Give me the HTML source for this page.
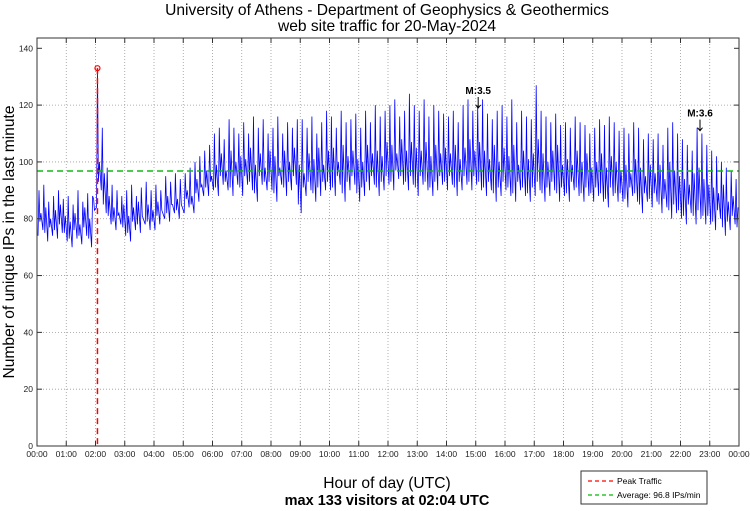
<!DOCTYPE html>
<html><head><meta charset="utf-8"><style>
html,body{margin:0;padding:0;background:#fff;}
svg{display:block;font-family:"Liberation Sans",sans-serif;}
</style></head><body>
<svg id="chart" width="750" height="511" viewBox="0 0 750 511" xmlns="http://www.w3.org/2000/svg">
<text x="387" y="15" font-size="15.6" text-anchor="middle">University of Athens - Department of Geophysics &amp; Geothermics</text>
<text x="387" y="31" font-size="15.6" text-anchor="middle">web site traffic for 20-May-2024</text>
<g id="grid"></g>
<g id="series"></g>
<g id="axes"></g>
<text transform="translate(14,242) rotate(-90)" font-size="15.6" text-anchor="middle">Number of unique IPs in the last minute</text>
<text x="387" y="488" font-size="15.6" text-anchor="middle">Hour of day (UTC)</text>
<text x="387" y="505" font-size="14.5" font-weight="bold" text-anchor="middle">max 133 visitors at 02:04 UTC</text>
<g>
<rect x="581" y="471" width="126" height="33" fill="#fff" stroke="#333" stroke-width="1"/>
<line x1="588" y1="481" x2="613" y2="481" stroke="#f00" stroke-width="1.2" stroke-dasharray="4,3"/>
<text x="617" y="484" font-size="8.5">Peak Traffic</text>
<line x1="588" y1="495" x2="613" y2="495" stroke="#0b0" stroke-width="1.2" stroke-dasharray="4,3"/>
<text x="617" y="498" font-size="8.5">Average: 96.8 IPs/min</text>
</g>
</svg>
<script>
const binStartMinutes=[];for(let i=0;i<144;i++)binStartMinutes.push(i*10);
const highValues=[90,92,86,88,90,87, 88,85,90,86,89,88, 133,112,98,92,90,88, 90,92,88,91,93,90, 92,90,95,93,96,94, 96,98,100,102,104,106, 110,112,108,115,112,110, 114,110,116,112,115,110, 112,116,110,114,112,115, 115,112,116,110,114,118, 116,112,118,114,115,117, 112,118,114,120,116,118, 120,122,116,118,124,120, 118,122,116,120,118,117, 116,118,114,120,122,118, 120,122,117,115,118,120, 116,122,114,118,116,115, 127,118,116,114,117,113, 114,112,116,114,113,110, 112,115,113,116,114,111, 112,110,114,112,108,110, 108,110,106,112,114,110, 108,106,104,112,110,106, 104,102,100,98,97,94];
const midValues=[82,84,80,83,85,81, 79,82,78,84,80,83, 100,96,88,84,82,85, 81,84,86,80,85,83, 86,82,88,85,87,84, 90,88,94,92,97,95, 99,103,97,104,100,102, 101,105,99,103,98,104, 102,98,104,100,105,99, 96,103,101,105,99,104, 105,100,106,102,104,101, 100,106,103,104,102,107, 106,103,108,104,107,105, 104,107,102,106,103,105, 103,106,101,105,108,104, 107,104,101,106,100,105, 102,106,99,104,101,103, 108,103,100,104,106,99, 101,99,104,100,103,98, 100,103,98,102,100,97, 99,96,101,98,95,99, 96,99,94,100,97,95, 94,92,96,98,94,92, 91,89,92,86,88,84];
const lowValues=[74,76,72,74,73,75, 72,70,73,71,74,70, 84,90,82,78,76,78, 74,72,76,75,78,76, 76,78,80,79,82,80, 82,84,82,86,88,88, 90,88,92,90,88,92, 88,92,90,86,92,90, 90,86,92,88,90,92, 82,88,90,86,88,90, 90,88,92,86,90,92, 86,88,90,92,88,90, 92,90,94,92,90,92, 88,92,90,88,90,92, 90,92,88,90,92,90, 92,90,88,90,86,88, 90,88,86,90,88,86, 88,90,86,88,90,86, 88,86,90,88,86,88, 86,88,86,84,88,86, 86,84,88,86,82,86, 84,86,82,84,80,82, 80,78,82,78,80,78, 78,76,80,74,76,78];
const yTicks=[0,20,40,60,80,100,120,140];
const xTickLabels=["00:00","01:00","02:00","03:00","04:00","05:00","06:00","07:00","08:00","09:00","10:00","11:00","12:00","13:00","14:00","15:00","16:00","17:00","18:00","19:00","20:00","21:00","22:00","23:00","00:00"];
const peakMinute=[124];
const peakValue=[133];
const averageValue=[96.8];
const quakeLabels=["M:3.5","M:3.6"];
const quakeMinutes=[905,1360];
const quakeValues=[119,111];

const L=37,R=739,T=38,B=446;
const X=m=>L+m/1440*(R-L);
const Y=v=>B-v/140*(B-48.3);
const NS="http://www.w3.org/2000/svg";
function mk(tag,attrs,parent){const e=document.createElementNS(NS,tag);for(const k in attrs)e.setAttribute(k,attrs[k]);parent.appendChild(e);return e;}
const grid=document.getElementById('grid'),axes=document.getElementById('axes'),series=document.getElementById('series');
xTickLabels.forEach((lab,i)=>{
  const x=X(i*60);
  if(i>0&&i<24){const g=mk('line',{x1:x,y1:T,x2:x,y2:B,stroke:'#999','stroke-width':0.8,'stroke-dasharray':'1,2'},grid);
  
  }
  mk('line',{x1:x,y1:B,x2:x,y2:B-5,stroke:'#333'},axes);
  mk('line',{x1:x,y1:T,x2:x,y2:T+5,stroke:'#333'},axes);
  const t=mk('text',{x:x,y:457,'font-size':8.5,'text-anchor':'middle',fill:'#222'},axes);t.textContent=lab;
  
  
});
yTicks.forEach(v=>{
  const y=Y(v);
  if(v>0&&v<140){const g=mk('line',{x1:L,y1:y,x2:R,y2:y,stroke:'#999','stroke-width':0.8,'stroke-dasharray':'1,2'},grid);
  
  }
  mk('line',{x1:L,y1:y,x2:L+5,y2:y,stroke:'#333'},axes);
  mk('line',{x1:R,y1:y,x2:R-5,y2:y,stroke:'#333'},axes);
  const t=mk('text',{x:33,y:y+3,'font-size':8.5,'text-anchor':'end',fill:'#222'},axes);t.textContent=v;
  
  
});
const frame=mk('rect',{x:L,y:T,width:R-L,height:B-T,fill:'none',stroke:'#333'},axes);


let pts=[];
binStartMinutes.forEach((m,i)=>{
  pts.push(X(m+2).toFixed(1)+','+Y(lowValues[i]).toFixed(1));
  pts.push(X(m+4).toFixed(1)+','+Y(highValues[i]).toFixed(1));
  pts.push(X(m+6).toFixed(1)+','+Y(lowValues[(i+1)%144]+3).toFixed(1));
  pts.push(X(m+8).toFixed(1)+','+Y(midValues[i]).toFixed(1));
});
const line=mk('polyline',{points:pts.join(' '),fill:'none',stroke:'#00f','stroke-width':0.8},series);


const avg=mk('line',{x1:L,y1:Y(averageValue[0]),x2:R,y2:Y(averageValue[0]),stroke:'#1b1','stroke-width':1.5,'stroke-dasharray':'6,4'},series);


const pk=mk('line',{x1:X(peakMinute[0]),y1:Y(peakValue[0]),x2:X(peakMinute[0]),y2:B,stroke:'#f00','stroke-width':1.5,'stroke-dasharray':'6,4'},series);


const pc=mk('circle',{cx:X(peakMinute[0]),cy:Y(peakValue[0]),r:2.5,fill:'none',stroke:'#f00','stroke-width':1.2},series);


quakeLabels.forEach((lab,i)=>{
  const x=X(quakeMinutes[i]),y=Y(quakeValues[i]);
  const g=mk('g',{},series);
  
  
  const t=mk('text',{x:x,y:y-14,'font-size':10,'font-weight':'bold','text-anchor':'middle'},g);t.textContent=lab;
  mk('path',{d:`M${x},${y-11}V${y}M${x-2.5},${y-3}L${x},${y}L${x+2.5},${y-3}`,stroke:'#000',fill:'none','stroke-width':1},g);
});
</script>
</body></html>
